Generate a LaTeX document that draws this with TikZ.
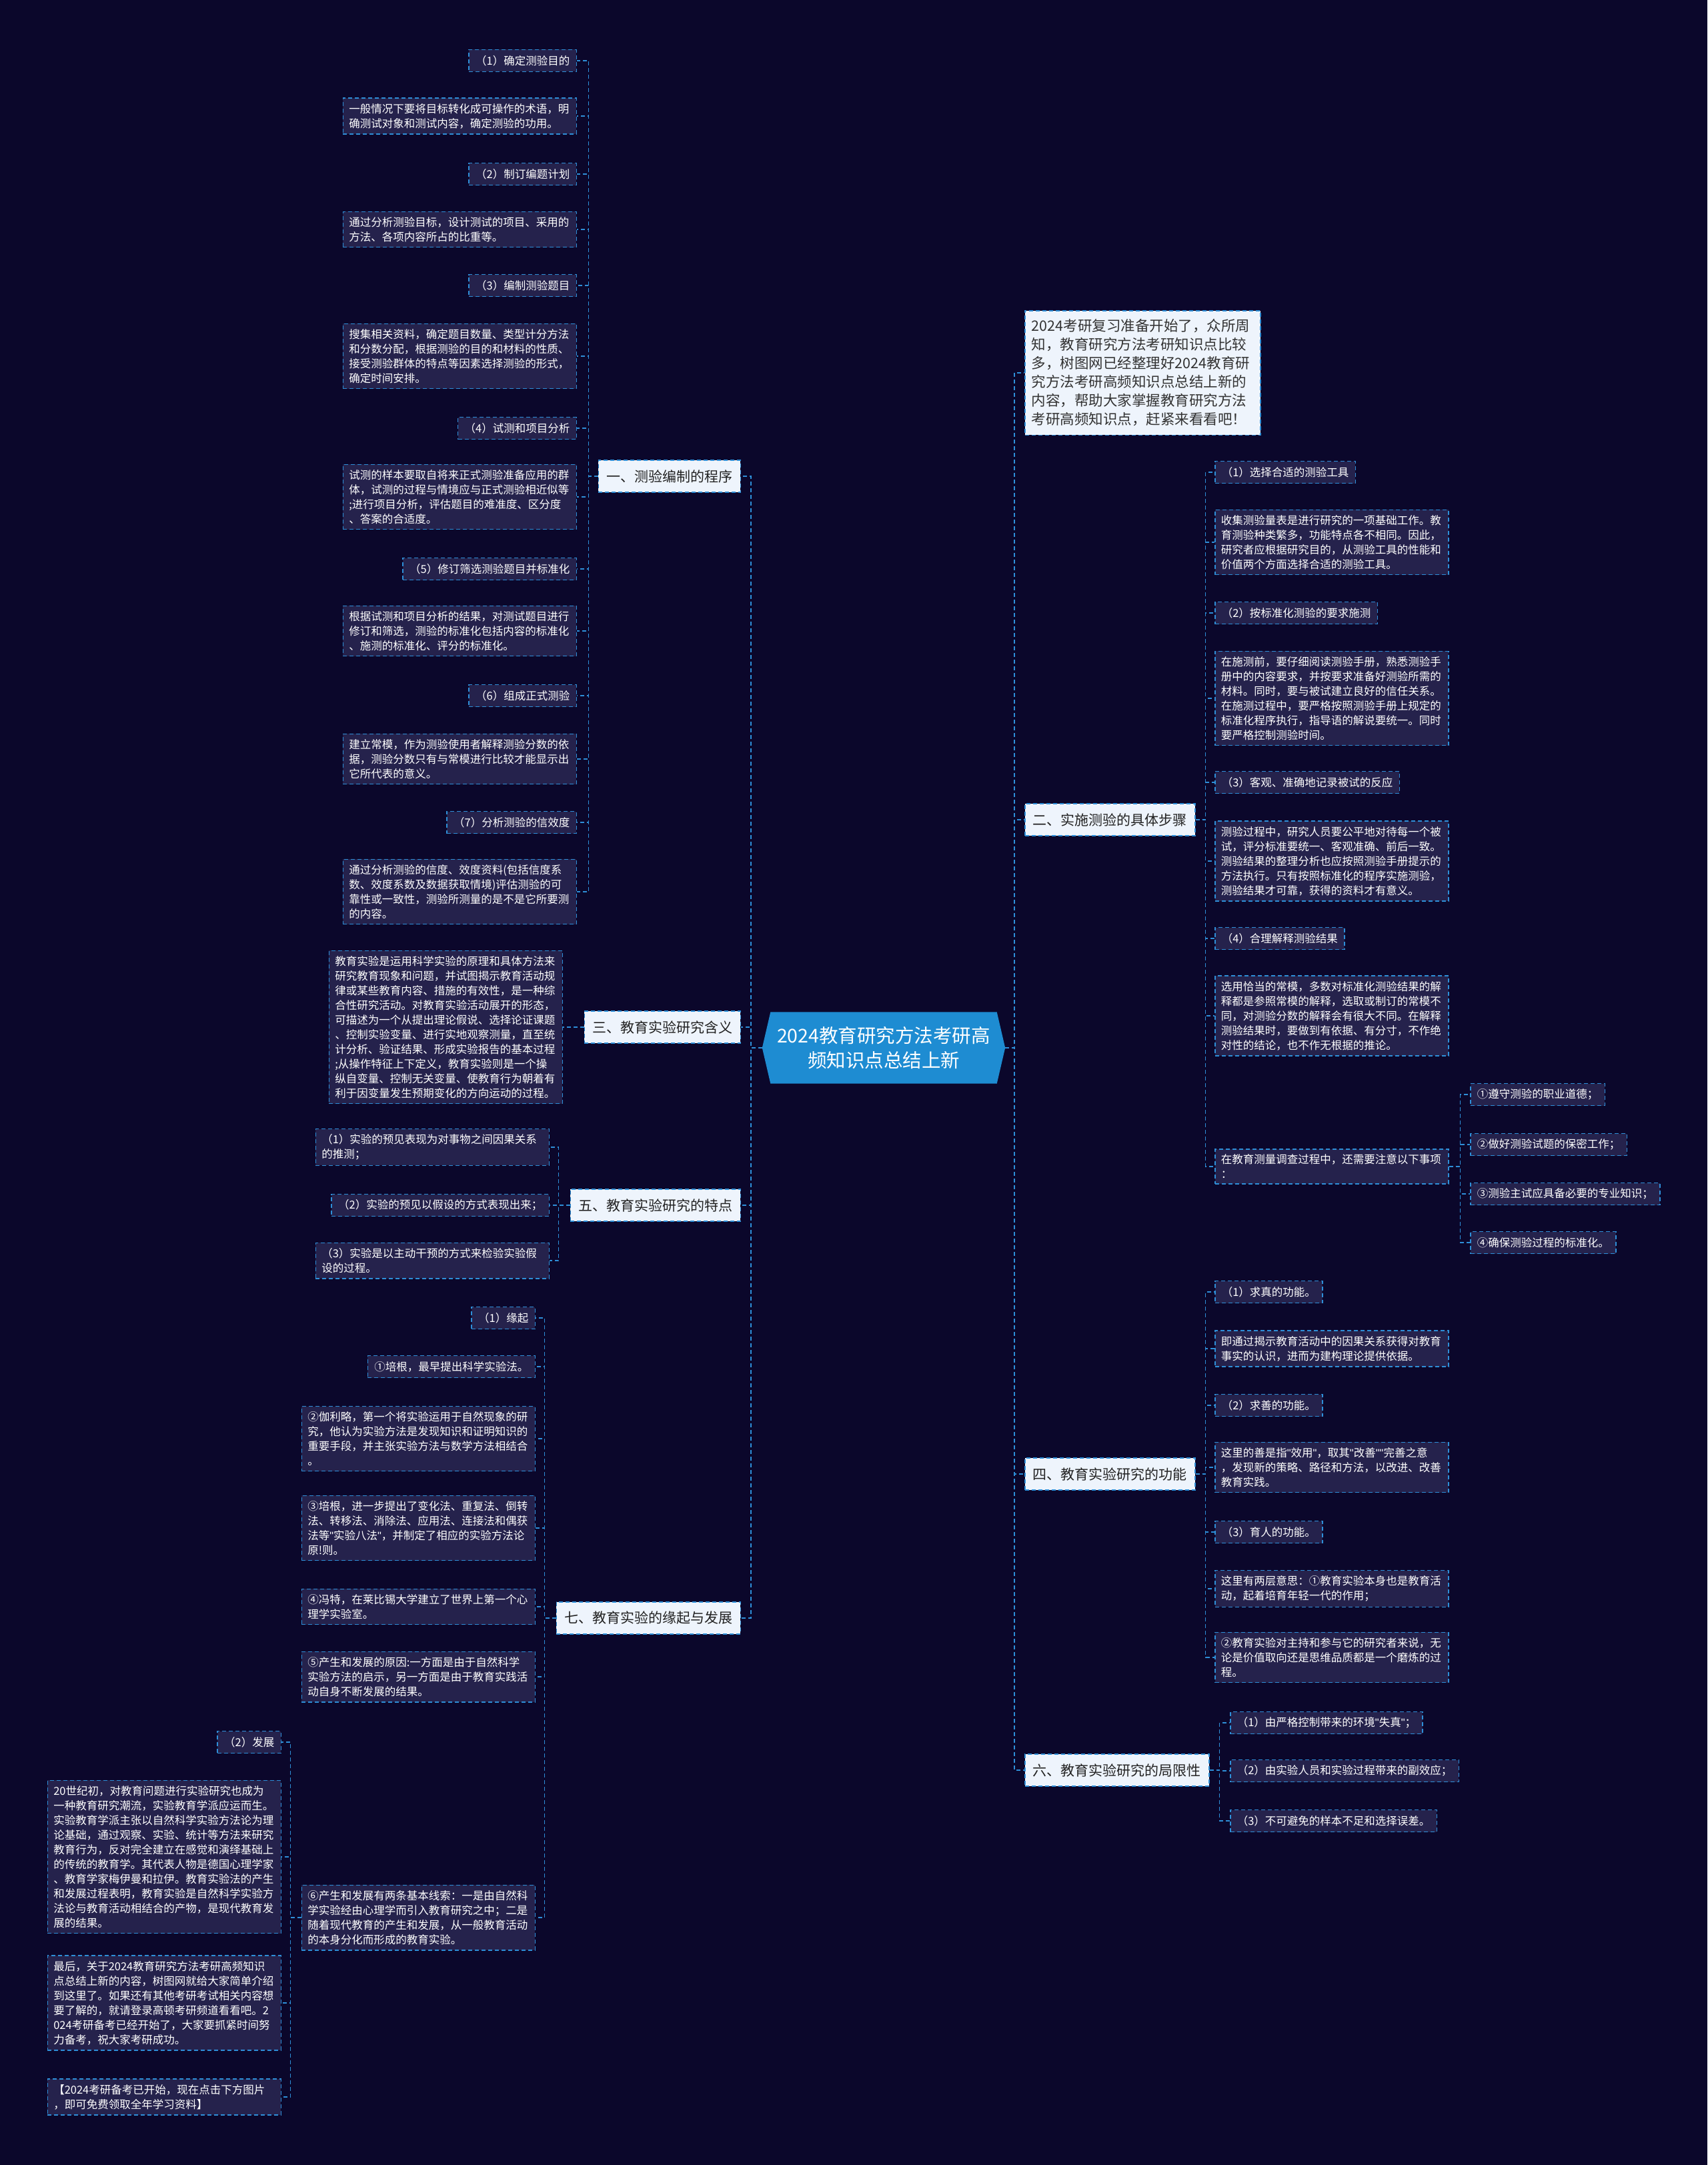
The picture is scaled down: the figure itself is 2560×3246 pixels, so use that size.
\documentclass[tikz,border=0pt]{standalone}
\usepackage{fontspec}
\setmainfont{Noto Sans CJK SC}
\newfontfamily\qfont{Liberation Sans}
\newcommand{\dquo}{{\qfont"}}
\definecolor{bgc}{HTML}{0B072B}
\definecolor{leaffill}{HTML}{25224C}
\definecolor{lineblue}{HTML}{2E8FD8}
\definecolor{mainfill}{HTML}{EEF4FC}
\definecolor{maintext}{HTML}{222222}
\definecolor{introtext}{HTML}{333333}
\definecolor{ctrfill}{HTML}{1E8CD2}
\pgfdeclarelayer{bglayer}
\pgfdeclarelayer{edges}
\pgfsetlayers{bglayer,edges,main}
\tikzset{
  boxline/.style={draw=lineblue, line width=1.5pt, dash pattern=on 6pt off 4pt},
  leaf/.style={boxline, fill=leaffill, text=white, font=\fontsize{16.5}{22}\selectfont, inner xsep=10pt, inner ysep=8pt, minimum height=33pt},
  para/.style={leaf, text width=332pt, inner xsep=9pt, align=left},
  mainbox/.style={boxline, fill=mainfill, text=maintext, font=\fontsize{21}{27}\selectfont, inner xsep=12pt, minimum height=48pt},
  introbox/.style={boxline, fill=mainfill, text=introtext, font=\fontsize{21.5}{28}\selectfont, text width=333pt, inner xsep=10pt, inner ysep=13pt, align=left},
  conn/.style={draw=lineblue, line width=1.5pt, dash pattern=on 6pt off 4pt}
}
\begin{document}
\begin{tikzpicture}[x=1pt,y=-1pt]
\begin{pgfonlayer}{bglayer}
\fill[bgc] (0,0) rectangle (2560,3246);
\end{pgfonlayer}
\useasboundingbox (0,0) rectangle (2560,3246);

% centre
\node[font=\fontsize{28.5}{37}\selectfont, text=white, align=center, minimum width=364pt, minimum height=107pt, inner sep=0pt] (ctr) at (1325,1571) {2024教育研究方法考研高\\频知识点总结上新};

% main branches
\node[mainbox, anchor=east] (m1) at (1111,714) {一、测验编制的程序};
\node[mainbox, anchor=east] (m3) at (1111,1540) {三、教育实验研究含义};
\node[mainbox, anchor=east] (m5) at (1111,1807) {五、教育实验研究的特点};
\node[mainbox, anchor=east] (m7) at (1111,2426) {七、教育实验的缘起与发展};
\node[introbox, anchor=west] (intro) at (1536,559) {2024考研复习准备开始了，众所周\\知，教育研究方法考研知识点比较\\多，树图网已经整理好2024教育研\\究方法考研高频知识点总结上新的\\内容，帮助大家掌握教育研究方法\\考研高频知识点，赶紧来看看吧！};
\node[mainbox, anchor=west] (m2) at (1536,1229) {二、实施测验的具体步骤};
\node[mainbox, anchor=west] (m4) at (1536,2210) {四、教育实验研究的功能};
\node[mainbox, anchor=west] (m6) at (1536,2654) {六、教育实验研究的局限性};

% branch 1
\node[leaf, anchor=east] (c1) at (865,91) {（1）确定测验目的};
\node[para, anchor=east] (c2) at (865,174) {一般情况下要将目标转化成可操作的术语，明\\确测试对象和测试内容，确定测验的功用。};
\node[leaf, anchor=east] (c3) at (865,261) {（2）制订编题计划};
\node[para, anchor=east] (c4) at (865,344) {通过分析测验目标，设计测试的项目、采用的\\方法、各项内容所占的比重等。};
\node[leaf, anchor=east] (c5) at (865,428) {（3）编制测验题目};
\node[para, anchor=east] (c6) at (865,534) {搜集相关资料，确定题目数量、类型计分方法\\和分数分配，根据测验的目的和材料的性质、\\接受测验群体的特点等因素选择测验的形式，\\确定时间安排。};
\node[leaf, anchor=east] (c7) at (865,642) {（4）试测和项目分析};
\node[para, anchor=east] (c8) at (865,745) {试测的样本要取自将来正式测验准备应用的群\\体，试测的过程与情境应与正式测验相近似等\\;进行项目分析，评估题目的难准度、区分度\\、答案的合适度。};
\node[leaf, anchor=east] (c9) at (865,853) {（5）修订筛选测验题目并标准化};
\node[para, anchor=east] (c10) at (865,946) {根据试测和项目分析的结果，对测试题目进行\\修订和筛选，测验的标准化包括内容的标准化\\、施测的标准化、评分的标准化。};
\node[leaf, anchor=east] (c11) at (865,1043) {（6）组成正式测验};
\node[para, anchor=east] (c12) at (865,1138) {建立常模，作为测验使用者解释测验分数的依\\据，测验分数只有与常模进行比较才能显示出\\它所代表的意义。};
\node[leaf, anchor=east] (c13) at (865,1233) {（7）分析测验的信效度};
\node[para, anchor=east] (c14) at (865,1337) {通过分析测验的信度、效度资料(包括信度系\\数、效度系数及数据获取情境)评估测验的可\\靠性或一致性，测验所测量的是不是它所要测\\的内容。};

% branch 3
\node[para, anchor=east] (t3) at (844,1540) {教育实验是运用科学实验的原理和具体方法来\\研究教育现象和问题，并试图揭示教育活动规\\律或某些教育内容、措施的有效性，是一种综\\合性研究活动。对教育实验活动展开的形态，\\可描述为一个从提出理论假说、选择论证课题\\、控制实验变量、进行实地观察测量，直至统\\计分析、验证结果、形成实验报告的基本过程\\;从操作特征上下定义，教育实验则是一个操\\纵自变量、控制无关变量、使教育行为朝着有\\利于因变量发生预期变化的方向运动的过程。};

% branch 5
\node[para, anchor=east] (f1) at (824,1720) {（1）实验的预见表现为对事物之间因果关系\\的推测；};
\node[leaf, anchor=east] (f2) at (824,1807) {（2）实验的预见以假设的方式表现出来；};
\node[para, anchor=east] (f3) at (824,1890) {（3）实验是以主动干预的方式来检验实验假\\设的过程。};

% branch 7
\node[leaf, anchor=east] (s1) at (803,1976) {（1）缘起};
\node[leaf, anchor=east] (s2) at (803,2049) {①培根，最早提出科学实验法。};
\node[para, anchor=east] (s3) at (803,2157) {②伽利略，第一个将实验运用于自然现象的研\\究，他认为实验方法是发现知识和证明知识的\\重要手段，并主张实验方法与数学方法相结合\\。};
\node[para, anchor=east] (s4) at (803,2291) {③培根，进一步提出了变化法、重复法、倒转\\法、转移法、消除法、应用法、连接法和偶获\\法等\dquo 实验八法\dquo ，并制定了相应的实验方法论\\原!则。};
\node[para, anchor=east] (s5) at (803,2409) {④冯特，在莱比锡大学建立了世界上第一个心\\理学实验室。};
\node[para, anchor=east] (s6) at (803,2514) {⑤产生和发展的原因:一方面是由于自然科学\\实验方法的启示，另一方面是由于教育实践活\\动自身不断发展的结果。};
\node[para, anchor=east] (s8) at (803,2875) {⑥产生和发展有两条基本线索：一是由自然科\\学实验经由心理学而引入教育研究之中；二是\\随着现代教育的产生和发展，从一般教育活动\\的本身分化而形成的教育实验。};
\node[leaf, anchor=east] (s7) at (422,2612) {（2）发展};
\node[para, anchor=east] (d1) at (422,2784) {20世纪初，对教育问题进行实验研究也成为\\一种教育研究潮流，实验教育学派应运而生。\\实验教育学派主张以自然科学实验方法论为理\\论基础，通过观察、实验、统计等方法来研究\\教育行为，反对完全建立在感觉和演绎基础上\\的传统的教育学。其代表人物是德国心理学家\\、教育学家梅伊曼和拉伊。教育实验法的产生\\和发展过程表明，教育实验是自然科学实验方\\法论与教育活动相结合的产物，是现代教育发\\展的结果。};
\node[para, anchor=east] (d2) at (422,3003) {最后，关于2024教育研究方法考研高频知识\\点总结上新的内容，树图网就给大家简单介绍\\到这里了。如果还有其他考研考试相关内容想\\要了解的，就请登录高顿考研频道看看吧。2\\024考研备考已经开始了，大家要抓紧时间努\\力备考，祝大家考研成功。};
\node[para, anchor=east] (d3) at (422,3144) {【2024考研备考已开始，现在点击下方图片\\，即可免费领取全年学习资料】};

% branch 2
\node[leaf, anchor=west] (r1) at (1821,708) {（1）选择合适的测验工具};
\node[para, anchor=west] (r2) at (1821,813) {收集测验量表是进行研究的一项基础工作。教\\育测验种类繁多，功能特点各不相同。因此，\\研究者应根据研究目的，从测验工具的性能和\\价值两个方面选择合适的测验工具。};
\node[leaf, anchor=west] (r3) at (1821,919) {（2）按标准化测验的要求施测};
\node[para, anchor=west] (r4) at (1821,1047) {在施测前，要仔细阅读测验手册，熟悉测验手\\册中的内容要求，并按要求准备好测验所需的\\材料。同时，要与被试建立良好的信任关系。\\在施测过程中，要严格按照测验手册上规定的\\标准化程序执行，指导语的解说要统一。同时\\要严格控制测验时间。};
\node[leaf, anchor=west] (r5) at (1821,1173) {（3）客观、准确地记录被试的反应};
\node[para, anchor=west] (r6) at (1821,1291) {测验过程中，研究人员要公平地对待每一个被\\试，评分标准要统一、客观准确、前后一致。\\测验结果的整理分析也应按照测验手册提示的\\方法执行。只有按照标准化的程序实施测验，\\测验结果才可靠，获得的资料才有意义。};
\node[leaf, anchor=west] (r7) at (1821,1407) {（4）合理解释测验结果};
\node[para, anchor=west] (r8) at (1821,1523) {选用恰当的常模，多数对标准化测验结果的解\\释都是参照常模的解释，选取或制订的常模不\\同，对测验分数的解释会有很大不同。在解释\\测验结果时，要做到有依据、有分寸，不作绝\\对性的结论，也不作无根据的推论。};
\node[para, anchor=west] (r9) at (1821,1749) {在教育测量调查过程中，还需要注意以下事项\\：};
\node[leaf, anchor=west] (q1) at (2204,1641) {①遵守测验的职业道德；};
\node[leaf, anchor=west] (q2) at (2204,1716) {②做好测验试题的保密工作；};
\node[leaf, anchor=west] (q3) at (2204,1790) {③测验主试应具备必要的专业知识；};
\node[leaf, anchor=west] (q4) at (2204,1863) {④确保测验过程的标准化。};

% branch 4
\node[leaf, anchor=west] (g1) at (1821,1937) {（1）求真的功能。};
\node[para, anchor=west] (g2) at (1821,2022) {即通过揭示教育活动中的因果关系获得对教育\\事实的认识，进而为建构理论提供依据。};
\node[leaf, anchor=west] (g3) at (1821,2107) {（2）求善的功能。};
\node[para, anchor=west] (g4) at (1821,2200) {这里的善是指\dquo 效用\dquo ，取其\dquo 改善\dquo\dquo 完善之意\\，发现新的策略、路径和方法，以改进、改善\\教育实践。};
\node[leaf, anchor=west] (g5) at (1821,2297) {（3）育人的功能。};
\node[para, anchor=west] (g6) at (1821,2382) {这里有两层意思：①教育实验本身也是教育活\\动，起着培育年轻一代的作用；};
\node[para, anchor=west] (g7) at (1821,2485) {②教育实验对主持和参与它的研究者来说，无\\论是价值取向还是思维品质都是一个磨炼的过\\程。};

% branch 6
\node[leaf, anchor=west] (h1) at (1844,2583) {（1）由严格控制带来的环境\dquo 失真\dquo ；};
\node[leaf, anchor=west] (h2) at (1844,2655) {（2）由实验人员和实验过程带来的副效应；};
\node[leaf, anchor=west] (h3) at (1844,2730) {（3）不可避免的样本不足和选择误差。};

\begin{pgfonlayer}{edges}
\fill[ctrfill] (ctr.west) -- ([xshift=12.5pt]ctr.north west) -- ([xshift=-12.5pt]ctr.north east) -- (ctr.east) -- ([xshift=-12.5pt]ctr.south east) -- ([xshift=12.5pt]ctr.south west) -- cycle;
\foreach \m in {m1,m3,m5,m7} \draw[conn] (ctr.west) -- ++(-17,0) |- (\m.east);
\foreach \m in {intro,m2,m4,m6} \draw[conn] (ctr.east) -- ++(14,0) |- (\m.west);
\foreach \c in {c1,c2,c3,c4,c5,c6,c7,c8,c9,c10,c11,c12,c13,c14} \draw[conn] (m1.west) -- ++(-14,0) |- (\c.east);
\draw[conn] (m3.west) -- (t3.east);
\foreach \c in {f1,f2,f3} \draw[conn] (m5.west) -- ++(-17,0) |- (\c.east);
\foreach \c in {s1,s2,s3,s4,s5,s6,s8} \draw[conn] (m7.west) -- ++(-17,0) |- (\c.east);
\foreach \c in {s7,d1,d2,d3} \draw[conn] (s8.west) -- ++(-16,0) |- (\c.east);
\foreach \c in {r1,r2,r3,r4,r5,r6,r7,r8,r9} \draw[conn] (m2.east) -- ++(15,0) |- (\c.west);
\foreach \c in {q1,q2,q3,q4} \draw[conn] (r9.east) -- ++(17,0) |- (\c.west);
\foreach \c in {g1,g2,g3,g4,g5,g6,g7} \draw[conn] (m4.east) -- ++(15,0) |- (\c.west);
\foreach \c in {h1,h2,h3} \draw[conn] (m6.east) -- ++(15,0) |- (\c.west);
\end{pgfonlayer}
\end{tikzpicture}
\end{document}
